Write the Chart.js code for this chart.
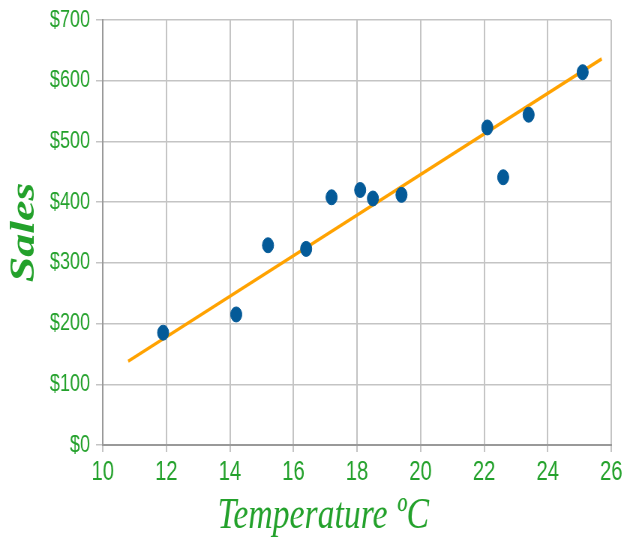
<!DOCTYPE html>
<html>
<head>
<meta charset="utf-8">
<script src="https://cdn.jsdelivr.net/npm/chart.js@4.4.0/dist/chart.umd.min.js"></script>
<style>
  body { margin: 0; overflow: hidden; background: #fff; }
  #wrap { width: 835px; height: 543px; transform: scaleX(0.75); transform-origin: 0 0; }
</style>
</head>
<body>
<div id="wrap"><canvas id="mycanvas" width="835" height="543"></canvas></div>
<script>
// temperature (C) vs ice cream sales ($)
var temps = [14.2, 16.4, 11.9, 15.2, 18.5, 22.1, 19.4, 25.1, 23.4, 18.1, 22.6, 17.2];
var sales = [215, 323, 185, 329, 406, 523, 412, 614, 544, 420, 441, 408];

// trend line end points
var trendX = [10.8, 25.7];
var trendY = [138, 636];

var xTicks = [10, 12, 14, 16, 18, 20, 22, 24, 26];
var yTicks = [0, 100, 200, 300, 400, 500, 600, 700];

var green = "#23a12b";

var points = [];
for (var i in temps) {
  points.push({x: temps[i], y: sales[i]});
}
var trend = [];
for (var j in trendX) {
  trend.push({x: trendX[j], y: trendY[j]});
}

var ctx = document.getElementById("mycanvas");

var chart = new Chart(ctx, {
  type: "scatter",
  data: {
    datasets: [
      {
        label: "Trend",
        type: "line",
        data: trend,
        borderColor: "#ffa200",
        borderWidth: 3.5,
        pointRadius: 0,
        fill: false,
        order: 2
      },
      {
        label: "Sales",
        data: points,
        backgroundColor: "#045a98",
        borderColor: "#045a98",
        pointRadius: 7.5,
        order: 1
      }
    ]
  },
  options: {
    responsive: false,
    animation: false,
    layout: { padding: { left: 6, right: 20, top: 4, bottom: 0 } },
    plugins: { legend: { display: false }, tooltip: { enabled: false } },
    scales: {
      x: {
        type: "linear",
        min: 10,
        max: 26,
        afterBuildTicks: function(s) {
          s.ticks = xTicks.map(function(v) { return {value: v}; });
        },
        afterFit: function(s) { s.height = 98; },
        border: { color: "#999", width: 2 },
        grid: { color: "#c4c4c4", lineWidth: 2, tickLength: 7 },
        ticks: { color: green, font: { family: "Liberation Sans", size: 27 }, padding: 4 },
        title: {
          display: true,
          text: "Temperature ºC        ",
          color: green,
          font: { family: "Liberation Serif", style: "italic", size: 45 },
          padding: { top: 0, bottom: 0 }
        }
      },
      y: {
        min: 0,
        max: 700,
        afterBuildTicks: function(s) {
          s.ticks = yTicks.map(function(v) { return {value: v}; });
        },
        afterFit: function(s) { s.width = 131; },
        border: { color: "#999", width: 2 },
        grid: { color: "#c4c4c4", lineWidth: 1.5, tickLength: 9 },
        ticks: {
          color: green,
          font: { family: "Liberation Sans", size: 24, lineHeight: 1 },
          padding: 8,
          callback: function(v) { return "$" + v; }
        },
        title: {
          display: true,
          text: "Sales",
          color: green,
          font: { family: "Liberation Serif", style: "italic", weight: "bold", size: 46 },
          padding: { top: 0, bottom: 4 }
        }
      }
    }
  }
});
</script>
</body>
</html>
